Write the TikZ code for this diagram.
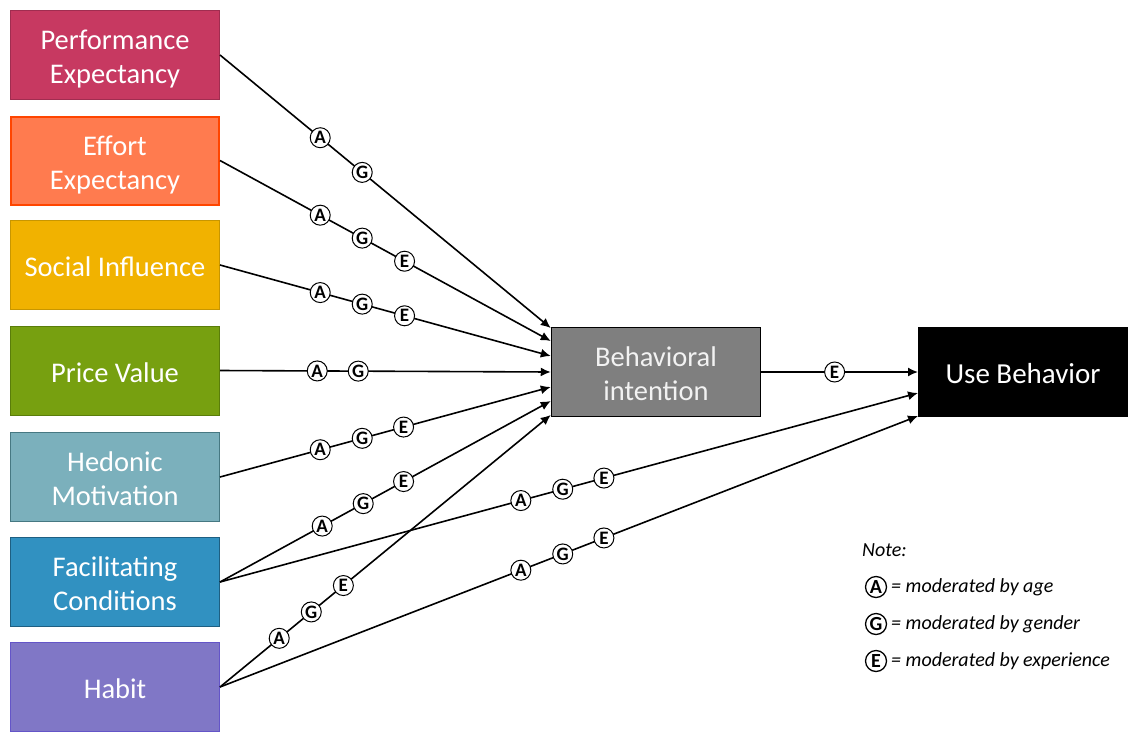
\documentclass[tikz,border=0pt]{standalone}
\usepackage{fontspec}
\setmainfont{Carlito}
\usetikzlibrary{arrows.meta,calc}
\definecolor{cPE}{RGB}{199,57,97}
\definecolor{cPEb}{RGB}{160,45,80}
\definecolor{cEE}{RGB}{255,123,79}
\definecolor{cEEb}{RGB}{255,69,0}
\definecolor{cSI}{RGB}{241,178,0}
\definecolor{cSIb}{RGB}{200,150,0}
\definecolor{cPV}{RGB}{119,160,16}
\definecolor{cPVb}{RGB}{90,125,10}
\definecolor{cHM}{RGB}{123,176,188}
\definecolor{cHMb}{RGB}{70,120,130}
\definecolor{cFC}{RGB}{49,145,193}
\definecolor{cFCb}{RGB}{30,95,130}
\definecolor{cHB}{RGB}{128,119,198}
\definecolor{cHBb}{RGB}{100,85,200}
\definecolor{cBI}{RGB}{127,127,127}
\newcommand{\bxt}[1]{\raisebox{-5pt}[\height][\depth]{\begin{tabular}{@{}c@{}}#1\end{tabular}}}
\begin{document}
\begin{tikzpicture}[x=1pt,y=-1pt,
  box/.style={rectangle, minimum width=209pt, minimum height=89pt, text=white, align=center,
    font=\fontsize{28.5}{34}\selectfont, line width=1pt, inner sep=0pt},
  mod/.style={circle, draw=black, fill=white, line width=1pt, minimum size=20pt, inner sep=0pt,
    font=\bfseries\fontsize{19}{19}\selectfont},
  lmod/.style={mod, line width=1.3pt, minimum size=21pt, font=\bfseries\fontsize{20}{20}\selectfont},
  arr/.style={line width=1.6pt, -{Latex[length=10pt,width=9pt]}},
  legend/.style={anchor=west, inner sep=1pt, font=\itshape\fontsize{20}{24}\selectfont}
]
\useasboundingbox (0,0) rectangle (1131,731);

\node[box, fill=cPE, draw=cPEb] (pe) at (115,55) {\bxt{Performance\\Expectancy}};
\node[box, fill=cEE, draw=cEEb, line width=2pt, minimum width=208pt, minimum height=88pt] (ee) at (115,160.5) {\bxt{Effort\\Expectancy}};
\node[box, fill=cSI, draw=cSIb] (si) at (115,265) {\bxt{Social Influence}};
\node[box, fill=cPV, draw=cPVb] (pv) at (115,370.5) {\bxt{Price Value}};
\node[box, fill=cHM, draw=cHMb] (hm) at (115,477) {\bxt{Hedonic\\Motivation}};
\node[box, fill=cFC, draw=cFCb] (fc) at (115,582) {\bxt{Facilitating\\Conditions}};
\node[box, fill=cHB, draw=cHBb] (hb) at (115,687) {\bxt{Habit}};

\node[box, fill=cBI, draw=black, line width=1.5pt, text={rgb,255:red,242;green,242;blue,242}] (bi) at (656,372) {\bxt{Behavioral\\intention}};
\node[box, fill=black, draw=black, font=\fontsize{29}{34}\selectfont] (ub) at (1023,372) {\bxt{Use Behavior}};

\draw[arr] (pe.east) -- node[mod,pos=0.303]{A} node[mod,pos=0.43]{G} ($(bi.west)+(0,-44)$);
\draw[arr] (ee.east) -- node[mod,pos=0.303]{A} node[mod,pos=0.43]{G} node[mod,pos=0.558]{E} ($(bi.west)+(0,-31)$);
\draw[arr] (si.east) -- node[mod,pos=0.303]{A} node[mod,pos=0.43]{G} node[mod,pos=0.558]{E} ($(bi.west)+(0,-16)$);
\draw[arr] (pv.east) -- node[mod,pos=0.294]{A} node[mod,pos=0.418]{G} (bi.west);
\draw[arr] (hm.east) -- node[mod,pos=0.303]{A} node[mod,pos=0.43]{G} node[mod,pos=0.555]{E} ($(bi.west)+(0,15)$);
\draw[arr] (fc.east) -- node[mod,pos=0.309]{A} node[mod,pos=0.433]{G} node[mod,pos=0.555]{E} ($(bi.west)+(0,29)$);
\draw[arr] (hb.east) -- node[mod,pos=0.179]{A} node[mod,pos=0.276]{G} node[mod,pos=0.373]{E} ($(bi.west)+(0,43)$);
\draw[arr] (fc.east) -- node[mod,pos=0.431]{A} node[mod,pos=0.491]{G} node[mod,pos=0.55]{E} ($(ub.west)+(0,21)$);
\draw[arr] (hb.east) -- node[mod,pos=0.431]{A} node[mod,pos=0.491]{G} node[mod,pos=0.55]{E} ($(ub.west)+(0,44)$);
\draw[arr] (bi.east) -- node[mod,pos=0.468]{E} (ub.west);

\node[legend] (note) at (861,550) {Note:};
\node[lmod] (la) at (876,587) {A};
\node[legend] (lta) at (890,587) {= moderated by age};
\node[lmod] (lg) at (876,624) {G};
\node[legend] (ltg) at (890,624) {= moderated by gender};
\node[lmod] (le) at (876,661) {E};
\node[legend] (lte) at (890,661) {= moderated by experience};
\end{tikzpicture}
\end{document}
